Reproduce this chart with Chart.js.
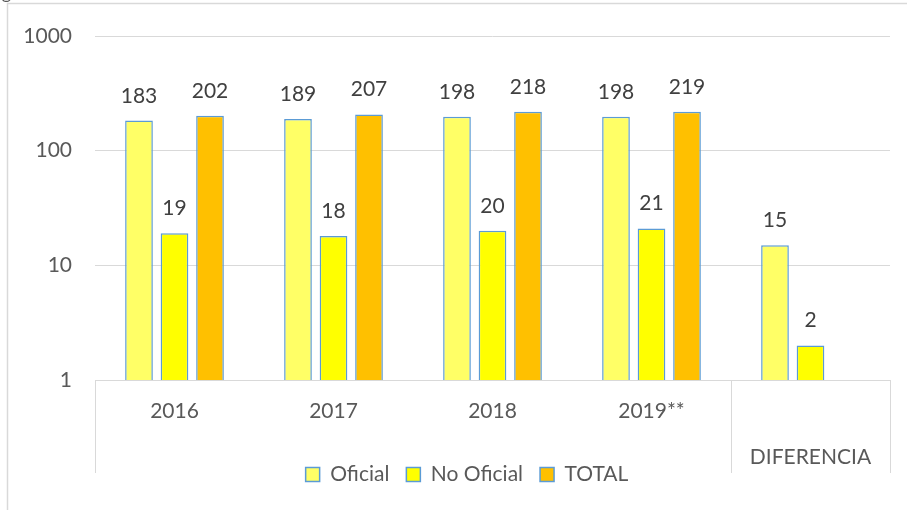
<!DOCTYPE html>
<html lang="es">
  <head>
    <meta charset="UTF-8" />
    <title>Oficial / No Oficial / TOTAL</title>
    <script src="https://cdn.jsdelivr.net/npm/chart.js@4.4.0/dist/chart.umd.min.js"></script>
    <style>
      body { margin: 0; background: #fff; }
      #wrap { position: relative; width: 907px; height: 510px; overflow: hidden; }
    </style>
  </head>
  <body>
    <div id="wrap">
      <canvas id="chart" width="907" height="510"></canvas>
    </div>

    <script>
      // datos
      const categorias = ["2016", "2017", "2018", "2019**", "DIFERENCIA"];
      const oficial = [183, 189, 198, 198, 15];
      const noOficial = [19, 18, 20, 21, 2];
      const total = [202, 207, 218, 219, null];
      const ticksY = [1, 10, 100, 1000];

      const gris = "#D9D9D9";
      const azul = "#5B9BD5";
      const texto = "#595959";
      const fuente = "Lato";

      // etiquetas de valor encima de cada barra
      const etiquetas = {
        id: "etiquetas",
        afterDatasetsDraw(chart) {
          const ctx = chart.ctx;
          ctx.save();
          ctx.font = "21px " + fuente;
          ctx.fillStyle = "#404040";
          ctx.textAlign = "center";
          ctx.textBaseline = "alphabetic";
          chart.data.datasets.forEach((ds, i) => {
            chart.getDatasetMeta(i).data.forEach((bar, j) => {
              if (ds.data[j] == null) return;
              ctx.fillText(ds.data[j], bar.x, bar.y - 18);
            });
          });
          ctx.restore();
        },
      };

      // marco, separadores y rótulos del eje de categorías
      const marco = {
        id: "marco",
        afterLayout(chart) {
          // la leyenda está algo desplazada a la derecha en el original
          chart.legend.left += 22;
          chart.legend.right += 22;
        },
        beforeDraw(chart) {
          const ctx = chart.ctx;
          const a = chart.chartArea;
          const x = chart.scales.x;
          ctx.save();
          ctx.strokeStyle = gris;
          ctx.lineWidth = 1.5;
          ctx.beginPath();
          ctx.moveTo(7.5, 510);
          ctx.lineTo(7.5, 3.5);
          ctx.lineTo(907, 3.5);
          ctx.stroke();

          ctx.lineWidth = 1;
          const sep = [
            a.left,
            (x.getPixelForValue(3) + x.getPixelForValue(4)) / 2,
            a.right,
          ];
          ctx.beginPath();
          sep.forEach((px) => {
            const p = Math.round(px) + 0.5;
            ctx.moveTo(p, a.bottom);
            ctx.lineTo(p, 473);
          });
          ctx.stroke();

          ctx.fillStyle = texto;
          ctx.font = "21px " + fuente;
          ctx.textAlign = "center";
          ctx.textBaseline = "middle";
          categorias.forEach((c, i) => {
            const y = i === 4 ? a.bottom + 77 : a.bottom + 31;
            ctx.fillText(c, x.getPixelForValue(i), y);
          });

          ctx.font = "18px " + fuente;
          ctx.textAlign = "right";
          ctx.textBaseline = "alphabetic";
          ctx.fillText("Fig", 11, -1);
          ctx.restore();
        },
      };

      new Chart(document.getElementById("chart"), {
        type: "bar",
        data: {
          labels: categorias,
          datasets: [
            { label: "Oficial", data: oficial, backgroundColor: "#FFFF66" },
            { label: "No Oficial", data: noOficial, backgroundColor: "#FFFF00" },
            { label: "TOTAL", data: total, backgroundColor: "#FFC000" },
          ].map((d) => ({
            ...d,
            borderColor: azul,
            borderWidth: 1.5,
            categoryPercentage: 0.67,
            barPercentage: 0.78,
          })),
        },
        options: {
          responsive: false,
          animation: false,
          layout: { padding: { top: 36, right: 17, left: 0, bottom: 15 } },
          plugins: {
            tooltip: { enabled: false },
            legend: {
              position: "bottom",
              labels: {
                boxWidth: 14,
                boxHeight: 14,
                padding: 17,
                color: texto,
                font: { family: fuente, size: 21 },
              },
            },
          },
          scales: {
            x: {
              grid: { display: false },
              border: { color: gris, width: 1 },
              ticks: { display: false },
              afterFit(s) {
                s.height = 67;
              },
            },
            y: {
              type: "logarithmic",
              min: 1,
              max: 1000,
              grid: { color: gris, drawTicks: false },
              border: { display: false },
              ticks: {
                color: texto,
                font: { family: fuente, size: 21 },
                padding: 23,
                callback: (v) => String(v),
              },
              afterBuildTicks(s) {
                s.ticks = ticksY.map((v) => ({ value: v }));
              },
              afterFit(s) {
                s.width = 95;
              },
            },
          },
        },
        plugins: [marco, etiquetas],
      });
    </script>
  </body>
</html>
